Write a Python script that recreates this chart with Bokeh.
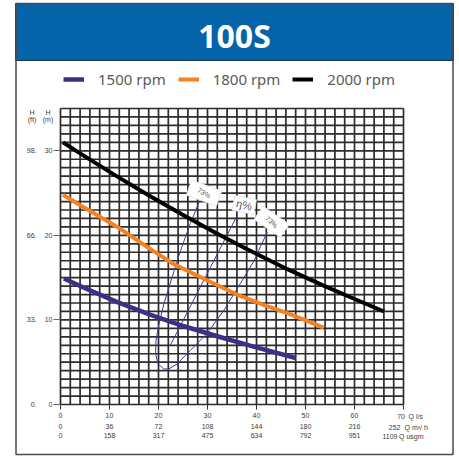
import numpy as np
from bokeh.plotting import figure
from bokeh.models import (LinearAxis, FixedTicker, Legend, LegendItem, Range1d,
                          ColumnDataSource)
from bokeh.core.properties import value, field
from bokeh.embed import file_html
from bokeh.resources import INLINE

# ---------------- data ----------------
title_text = "100S"
speeds = ["1500 rpm", "1800 rpm", "2000 rpm"]

q_1500 = [0.7, 4.8, 11.6, 18.4, 25.2, 32.7, 39.4, 48.0]
h_1500 = [14.9, 13.8, 12.1, 10.6, 9.25, 7.95, 6.85, 5.5]

q_1800 = [0.5, 4.8, 11.6, 17.5, 23.1, 29.9, 36.0, 42.0, 46.3, 53.7]
h_1800 = [24.8, 23.3, 21.0, 18.7, 16.6, 14.7, 13.0, 11.65, 10.8, 9.1]

q_2000 = [0.5, 4.8, 11.6, 18.4, 25.2, 32.0, 38.1, 46.3, 53.1, 59.9, 66.0]
h_2000 = [31.0, 29.4, 26.95, 24.6, 22.35, 20.2, 18.35, 16.0, 14.2, 12.5, 11.0]

# efficiency iso-curve (73 %) and best-efficiency line
eff_q = [28.4, 26.5, 24.5, 22.8, 21.1, 20.1, 19.5, 19.4, 19.9, 21.1, 22.1,
         23.8, 26.5, 29.9, 33.3, 36.7, 39.5, 42.2]
eff_h = [24.1, 21.4, 18.2, 15.1, 11.9, 9.5, 7.6, 6.0, 4.8, 4.2, 4.2,
         4.8, 6.4, 8.4, 11.1, 14.3, 17.0, 20.4]
bep_q = [36.1, 22.4]
bep_h = [22.4, 7.0]

eff_labels = ["73%", "η%", "73%"]
eff_label_q = [29.3, 37.5, 43.1]
eff_label_h = [25.0, 23.6, 21.6]

x_ticks_ls = [0, 10, 20, 30, 40, 50, 60, 70]
x_labels_m3h = ["0", "36", "72", "108", "144", "180", "216", "252"]
x_labels_usgm = ["0", "158", "317", "475", "634", "792", "951", "1109"]
x_units = ["Q l/s", "Q m³/ h", "Q usgm"]
y_ticks_m = [0, 10, 20, 30]
y_labels_ft = ["0.", "33.", "66.", "98."]
y_units = ["H\n(m)", "H\n(ft)"]

Q_MAX, H_MAX = 70, 35
Q_STEP, H_STEP = 2, 1

# ---------------- layout helpers (page pixels -> data) ----------------
ORG = 0                        # page position of the canvas corner
W, HC = 456, 458
PX_Q0, PX_Q1 = 60.0, 403.0     # page x of Q=0 and Q=70
PY_H0, PY_H1 = 404.0, 108.0    # page y of H=0 and H=35
SX = (PX_Q1 - PX_Q0) / Q_MAX
SY = (PY_H0 - PY_H1) / H_MAX


def qx(px):
    return (px - PX_Q0) / SX


def hy(py):
    return (PY_H0 - py) / SY


p = figure(width=W, height=HC, x_range=Range1d(qx(ORG), qx(ORG + W)),
           y_range=Range1d(hy(ORG + HC), hy(ORG)), x_axis_type=None, y_axis_type=None,
           toolbar_location=None, output_backend="svg", min_border=0, title=None)
p.outline_line_color = None
p.background_fill_color = "white"
p.border_fill_color = "white"

SMALL = value("Liberation Sans")
TXT = "#3c3c3c"

# header and frame
p.quad(left=qx(15), right=qx(453), top=hy(3), bottom=hy(60), fill_color="#0563a9",
       line_color="#1d3347", line_width=1)
p.quad(left=qx(15.5), right=qx(452.5), top=hy(3), bottom=hy(454), fill_color=None,
       line_color="#4a4a4a", line_width=1.5)
p.text(x=[qx(234)], y=[hy(35)], text=[title_text], text_font=value("Noto Sans"),
       text_font_style="bold", text_font_size="32px", text_color="white",
       text_align="center", text_baseline="middle")

# grid
gx = np.arange(0, Q_MAX + 1, Q_STEP)
gy = np.arange(0, H_MAX + 1, H_STEP)
p.segment(x0=gx, y0=0, x1=gx, y1=H_MAX, line_color="#2c2c2c", line_width=1.7)
p.segment(x0=0, y0=gy, x1=Q_MAX, y1=gy, line_color="#2c2c2c", line_width=1.7)

# efficiency curves
p.line(eff_q, eff_h, line_color="#3f3c9c", line_width=1)
p.line(bep_q, bep_h, line_color="#3f3c9c", line_width=1)

# performance curves
r1 = p.line(q_1500, h_1500, line_color="#3a3088", line_width=4.5, line_join="round")
r2 = p.line(q_1800, h_1800, line_color="#f58220", line_width=4, line_join="round")
r3 = p.line(q_2000, h_2000, line_color="#000000", line_width=4, line_join="round")

# efficiency label tags
src = ColumnDataSource(dict(x=eff_label_q, y=eff_label_h, t=eff_labels,
                            a=[-0.35, -0.2, -0.6], ta=[-0.55, -0.25, -0.75],
                            w=[32, 22, 32], h=[16, 15, 16],
                            fs=["7px", "11px", "7px"]))
p.rect(x="x", y="y", width="w", height="h", angle="a", width_units="screen",
       height_units="screen", fill_color="white", line_color="#e2e2e2",
       line_width=0.8, source=src)
p.text(x="x", y="y", text="t", angle="ta", text_font_size=field("fs"),
       text_font=SMALL, text_color="#555555", text_align="center",
       text_baseline="middle", source=src)

# axes
def style(ax, tick_out, standoff, tick_color):
    ax.axis_line_color = None
    ax.major_tick_in = 0
    ax.major_tick_out = tick_out
    ax.major_tick_line_color = tick_color
    ax.major_tick_line_width = 1
    ax.minor_tick_line_color = None
    ax.major_label_standoff = standoff
    ax.major_label_text_font = "Liberation Sans"
    ax.major_label_text_font_size = "7px"
    ax.major_label_text_color = TXT


ym = LinearAxis(fixed_location=0, ticker=FixedTicker(ticks=y_ticks_m))
style(ym, 7, 1, "#666666")
p.add_layout(ym, "left")

yft = LinearAxis(fixed_location=0, ticker=FixedTicker(ticks=y_ticks_m),
                 major_label_overrides=dict(zip(y_ticks_m, y_labels_ft)))
style(yft, 0, 24, None)
p.add_layout(yft, "left")

xa1 = LinearAxis(fixed_location=0, ticker=FixedTicker(ticks=x_ticks_ls),
                 major_label_overrides={x_ticks_ls[-1]: ""})
style(xa1, 5, 3, "#333333")
p.add_layout(xa1, "below")

ov2 = dict(zip(x_ticks_ls, x_labels_m3h))
ov2[x_ticks_ls[-1]] = ""
xa2 = LinearAxis(fixed_location=0, ticker=FixedTicker(ticks=x_ticks_ls),
                 major_label_overrides=ov2)
style(xa2, 0, 19, None)
p.add_layout(xa2, "below")

ov3 = dict(zip(x_ticks_ls, x_labels_usgm))
ov3[x_ticks_ls[-1]] = ""
xa3 = LinearAxis(fixed_location=0, ticker=FixedTicker(ticks=x_ticks_ls),
                 major_label_overrides=ov3)
style(xa3, 0, 28, None)
p.add_layout(xa3, "below")

# last column of the x scales and the unit names
row_y = [hy(416), hy(427), hy(436)]
p.text(x=[x_ticks_ls[-1]] * 3, y=row_y,
       text=[str(x_ticks_ls[-1]), x_labels_m3h[-1], x_labels_usgm[-1]],
       x_offset=[1.5, -3, -6], text_align="right", text_baseline="middle",
       text_font=SMALL, text_font_size="7px", text_color=TXT)
p.text(x=[qx(408), qx(404), qx(398.5)], y=row_y, text=x_units, text_align="left",
       text_baseline="middle", text_font=SMALL, text_font_size="7px", text_color=TXT)

# vertical unit headers
p.text(x=[qx(47.5), qx(31.5)], y=[hy(115)] * 2, text=y_units, text_align="center",
       text_baseline="middle", text_font=SMALL, text_font_size="7px", text_color=TXT,
       text_line_height=1.0)

# legend
legend = Legend(items=[LegendItem(label=speeds[0], renderers=[r1]),
                       LegendItem(label=speeds[1], renderers=[r2]),
                       LegendItem(label=speeds[2], renderers=[r3])],
                orientation="horizontal", location=(int(63 - ORG), int(HC - (89 - ORG))),
                padding=0, margin=0,
                spacing=12, label_standoff=14, glyph_width=21, glyph_height=20,
                label_height=20, label_text_font="Noto Sans",
                label_text_font_size="15px", label_text_color="#5a5a5a",
                border_line_color=None, background_fill_alpha=0)
p.add_layout(legend)

open("out.html", "w").write(file_html(p, INLINE))
